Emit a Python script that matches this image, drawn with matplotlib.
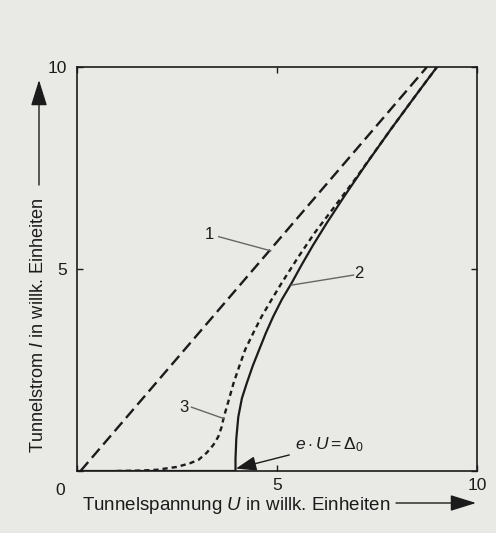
import matplotlib
matplotlib.use("Agg")
import matplotlib.pyplot as plt

plt.rcParams['font.family'] = ['Liberation Sans', 'DejaVu Sans']
plt.rcParams['mathtext.fontset'] = 'custom'
plt.rcParams['mathtext.rm'] = 'Liberation Sans'
plt.rcParams['mathtext.it'] = 'Liberation Sans:italic'

# ---- data ----
curve1_U = [0.1, 8.75]
curve1_I = [0.0, 10.0]

curve2_U = [0.0, 3.97, 3.97, 3.99, 4.04, 4.13, 4.25, 4.40, 4.56, 4.73, 4.91,
            5.13, 5.37, 5.62, 5.90, 6.25, 6.70, 7.25, 7.85, 8.45, 9.00]
curve2_I = [0.0, 0.0, 0.3, 0.8, 1.34, 1.80, 2.17, 2.60, 3.0, 3.42, 3.82,
            4.25, 4.65, 5.10, 5.58, 6.14, 6.82, 7.62, 8.46, 9.27, 10.0]

curve3_U = [1.0, 1.6, 2.0, 2.5, 2.83, 3.05, 3.25, 3.42, 3.54, 3.62, 3.68, 3.80,
            3.92, 4.06, 4.21, 4.41, 4.62, 4.87, 5.12, 5.54, 5.95, 6.41, 6.94,
            7.85, 8.45, 9.00]
curve3_I = [0.0, 0.01, 0.03, 0.10, 0.19, 0.28, 0.45, 0.65, 0.85, 1.08, 1.34, 1.75,
            2.17, 2.58, 3.0, 3.41, 3.82, 4.24, 4.65, 5.30, 5.90, 6.50, 7.20,
            8.46, 9.27, 10.0]

x_ticks = [0, 5, 10]
x_ticklabels = ['', '5', '10']
y_ticks = [0, 5, 10]
y_ticklabels = ['', '5', '10']

labels = ['1', '2', '3']
label_text_pos = [(3.33, 5.85), (7.05, 4.9), (2.68, 1.58)]
label_line_start = [(3.55, 5.8), (6.92, 4.85), (2.87, 1.58)]
label_line_end = [(4.85, 5.45), (5.36, 4.6), (3.67, 1.3)]

W, H = 496, 533
BG = '#e9e9e5'
INK = '#1b1b1b'

fig = plt.figure(figsize=(W / 100, H / 100), dpi=100, facecolor=BG)
ax = fig.add_axes([76.5 / W, 1 - 471 / H, (477 - 76.5) / W, (471 - 67) / H])
ax.set_facecolor(BG)
ax.set_xlim(0, 10)
ax.set_ylim(0, 10)

ax.plot(curve1_U, curve1_I, color=INK, lw=1.7, dashes=(5.0, 2.4),
        solid_capstyle='butt', dash_capstyle='butt')
ax.plot(curve2_U, curve2_I, color=INK, lw=1.6)
ax.plot(curve3_U, curve3_I, color=INK, lw=1.7, dashes=(2.2, 1.7),
        dash_capstyle='butt')

for s in ax.spines.values():
    s.set_linewidth(1.2)
    s.set_color(INK)

ax.set_xticks(x_ticks)
ax.set_xticklabels(x_ticklabels)
ax.set_yticks(y_ticks)
ax.set_yticklabels(y_ticklabels)
ax.tick_params(direction='in', length=4, width=1, color=INK, labelsize=12.5,
               labelcolor=INK, top=True, right=True)
ax.tick_params(axis='x', pad=5)
ax.tick_params(axis='y', pad=7)
ax.text(-0.28, -0.3, '0', transform=ax.transData, ha='right', va='top',
        fontsize=12.5, color=INK)

# curve labels with leader lines
for lab, tp, ls, le in zip(labels, label_text_pos, label_line_start, label_line_end):
    ax.text(tp[0], tp[1], lab, ha='center', va='center', fontsize=12, color=INK)
    ax.plot([ls[0], le[0]], [ls[1], le[1]], color='#666666', lw=1.0)

# e*U = Delta_0 annotation
ax.annotate(r'$e\cdot U = \mathit{\Delta}_0$', xy=(3.98, 0.06), xytext=(5.45, 0.65),
            fontsize=12.5, color=INK, ha='left', va='center',
            arrowprops=dict(arrowstyle='-|>,head_length=0.7,head_width=0.25',
                            mutation_scale=18, color=INK, lw=1.0,
                            shrinkA=2, shrinkB=0))


def fpx(x, y):
    return (x / W, 1 - y / H)


# axis labels with arrows
fig.text(*fpx(82, 510), r'Tunnelspannung $\mathit{U}$ in willk. Einheiten',
         ha='left', va='baseline', fontsize=13.5, color=INK)
fig.text(*fpx(39, 453), r'Tunnelstrom $\mathit{I}$ in willk. Einheiten',
         ha='center', va='bottom', rotation=90, fontsize=13.1, color=INK)

arrow_kw = dict(arrowstyle='-|>,head_length=0.8,head_width=0.25',
                mutation_scale=20, color=INK, lw=1.0, shrinkA=0, shrinkB=0)
ax.annotate('', xy=fpx(476, 503), xytext=fpx(396, 503), xycoords='figure fraction',
            textcoords='figure fraction', arrowprops=arrow_kw)
ax.annotate('', xy=fpx(39, 80), xytext=fpx(39, 185), xycoords='figure fraction',
            textcoords='figure fraction', arrowprops=arrow_kw)

fig.savefig('out.png', dpi=100, facecolor=BG)
